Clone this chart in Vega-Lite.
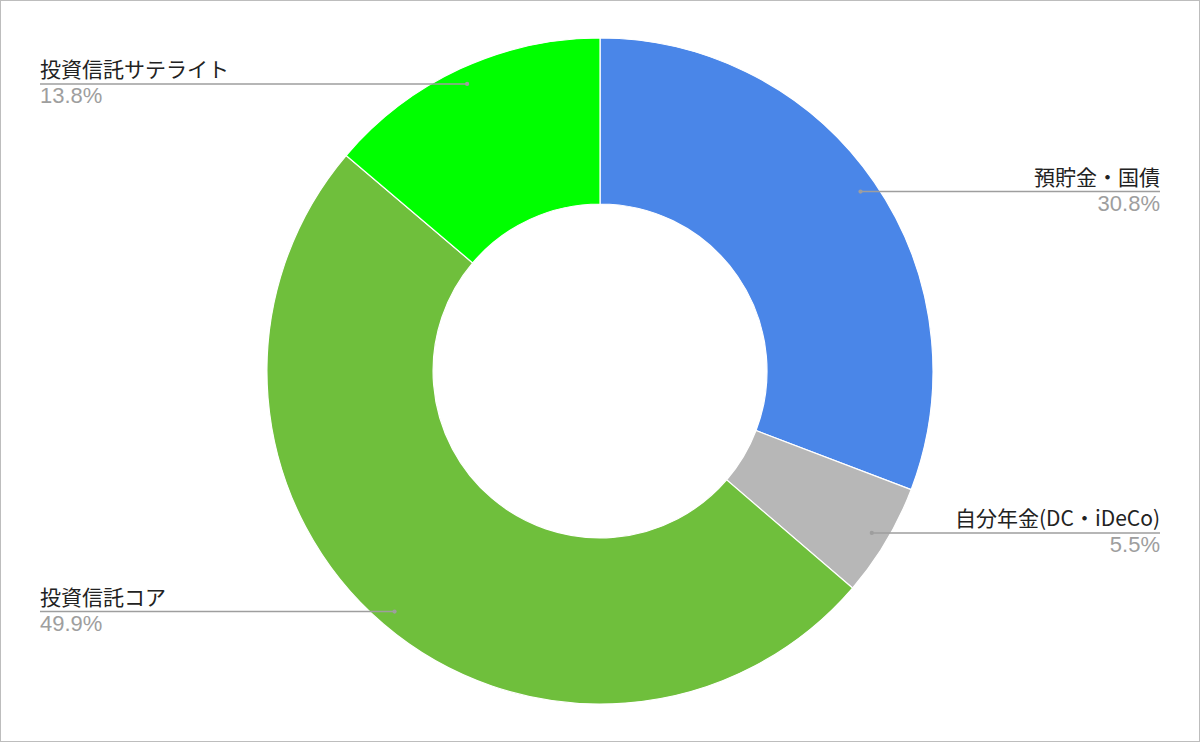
{
  "$schema": "https://vega.github.io/schema/vega-lite/v6.json",
  "width": 1200,
  "height": 742,
  "padding": 0,
  "autosize": {"type": "fit", "contains": "padding"},
  "background": "white",
  "config": {"view": {"stroke": "#bdbdbd", "strokeWidth": 2}},
  "data": {
    "values": [
      {"name": "預貯金・国債", "share": 0.308, "order": 1},
      {"name": "自分年金(DC・iDeCo)", "share": 0.055, "order": 2},
      {"name": "投資信託コア", "share": 0.499, "order": 3},
      {"name": "投資信託サテライト", "share": 0.138, "order": 4}
    ]
  },
  "transform": [
    {"window": [{"op": "sum", "field": "share", "as": "cum"}], "sort": [{"field": "order"}], "frame": [null, 0]},
    {"joinaggregate": [{"op": "sum", "field": "share", "as": "total"}]},
    {"calculate": "2 * PI * (datum.cum - datum.share / 2) / datum.total", "as": "mid"},
    {"calculate": "0.95 * sin(datum.mid)", "as": "dx"},
    {"calculate": "0.95 * cos(datum.mid)", "as": "dy"},
    {"calculate": "datum.dx > 0 ? 1.6817 : -1.6817", "as": "lx"},
    {"calculate": "datum.dx > 0 ? 'right' : 'left'", "as": "side"}
  ],
  "layer": [
    {
      "mark": {"type": "arc", "outerRadius": 333, "innerRadius": 167, "stroke": "white", "strokeWidth": 1.2},
      "encoding": {
        "theta": {"field": "share", "type": "quantitative", "stack": true},
        "order": {"field": "order", "type": "ordinal"},
        "color": {
          "field": "name",
          "type": "nominal",
          "legend": null,
          "scale": {
            "domain": ["預貯金・国債", "自分年金(DC・iDeCo)", "投資信託コア", "投資信託サテライト"],
            "range": ["#4a86e8", "#b7b7b7", "#6fbf3c", "#00ff00"]
          }
        }
      }
    },
    {
      "mark": {"type": "rule", "color": "#9e9e9e", "strokeWidth": 1.5},
      "encoding": {
        "x": {"field": "dx", "type": "quantitative", "scale": {"domain": [-1.8018, 1.8018], "nice": false, "zero": false}, "axis": null},
        "x2": {"field": "lx"},
        "y": {"field": "dy", "type": "quantitative", "scale": {"domain": [-1.1141, 1.1141], "nice": false, "zero": false}, "axis": null}
      }
    },
    {
      "mark": {"type": "point", "filled": true, "color": "#9e9e9e", "size": 18, "opacity": 1},
      "encoding": {
        "x": {"field": "dx", "type": "quantitative"},
        "y": {"field": "dy", "type": "quantitative"}
      }
    },
    {
      "transform": [{"filter": "datum.side == 'right'"}],
      "layer": [
        {
          "mark": {"type": "text", "align": "right", "baseline": "alphabetic", "dy": -7, "fontSize": 21, "font": "Noto Sans CJK JP", "color": "#222222"},
          "encoding": {
            "x": {"field": "lx", "type": "quantitative"},
            "y": {"field": "dy", "type": "quantitative"},
            "text": {"field": "name"}
          }
        },
        {
          "mark": {"type": "text", "align": "right", "baseline": "top", "dy": 2, "fontSize": 22, "font": "Liberation Sans", "color": "#9e9e9e"},
          "encoding": {
            "x": {"field": "lx", "type": "quantitative"},
            "y": {"field": "dy", "type": "quantitative"},
            "text": {"field": "share", "format": ".1%"}
          }
        }
      ]
    },
    {
      "transform": [{"filter": "datum.side == 'left'"}],
      "layer": [
        {
          "mark": {"type": "text", "align": "left", "baseline": "alphabetic", "dy": -7, "fontSize": 21, "font": "Noto Sans CJK JP", "color": "#222222"},
          "encoding": {
            "x": {"field": "lx", "type": "quantitative"},
            "y": {"field": "dy", "type": "quantitative"},
            "text": {"field": "name"}
          }
        },
        {
          "mark": {"type": "text", "align": "left", "baseline": "top", "dy": 2, "fontSize": 22, "font": "Liberation Sans", "color": "#9e9e9e"},
          "encoding": {
            "x": {"field": "lx", "type": "quantitative"},
            "y": {"field": "dy", "type": "quantitative"},
            "text": {"field": "share", "format": ".1%"}
          }
        }
      ]
    }
  ]
}
